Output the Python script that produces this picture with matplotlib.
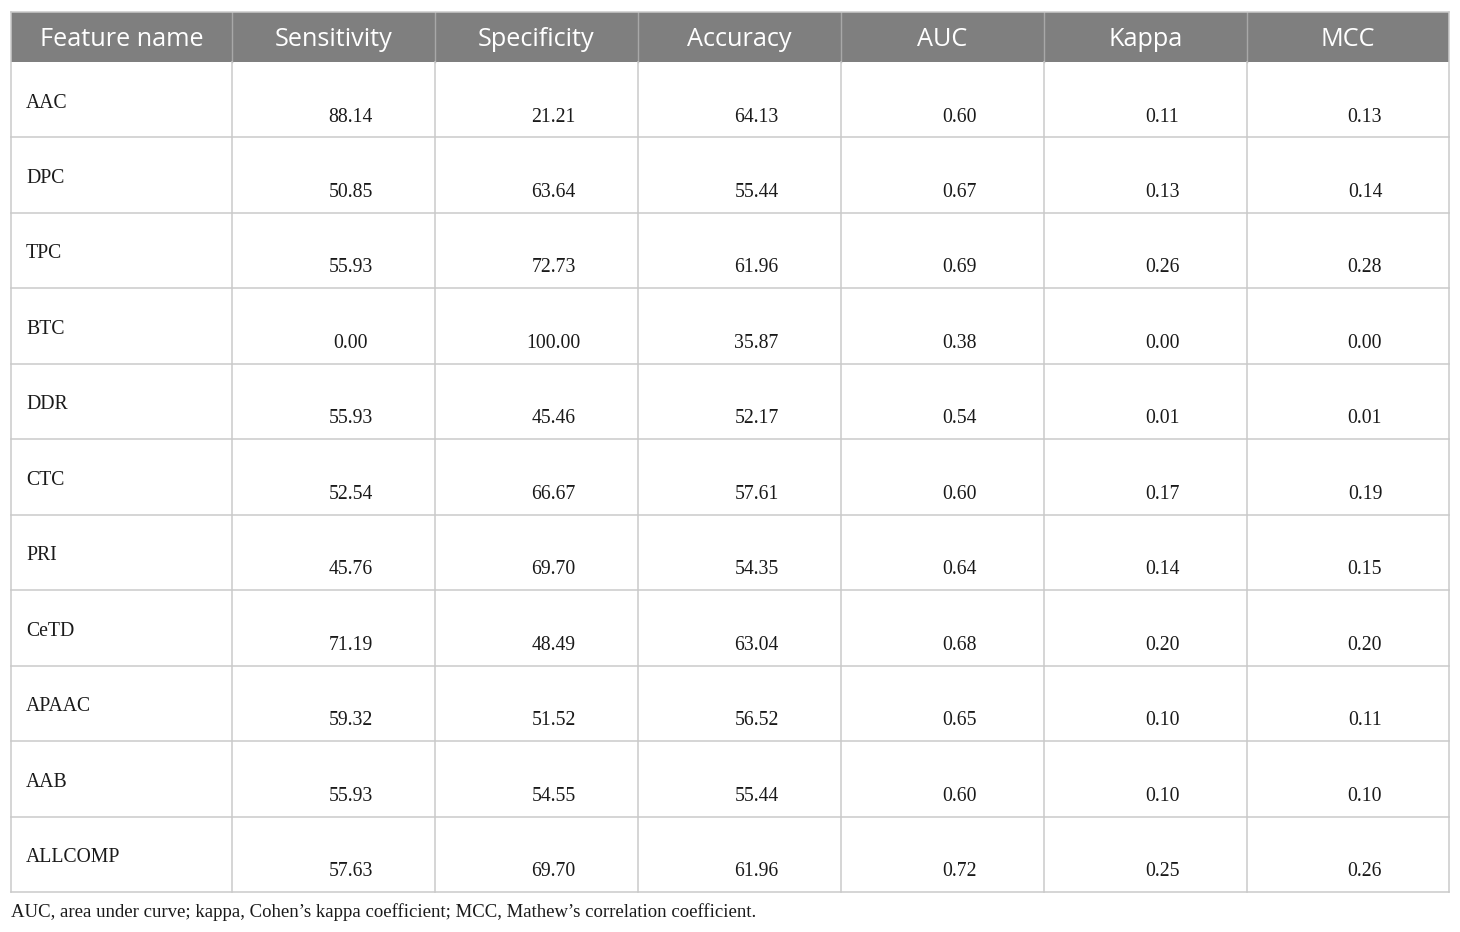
import matplotlib
matplotlib.use("Agg")
import matplotlib.pyplot as plt
from matplotlib.patches import Rectangle

headers = ["Feature name", "Sensitivity", "Specificity", "Accuracy", "AUC", "Kappa", "MCC"]
features = ["AAC", "DPC", "TPC", "BTC", "DDR", "CTC", "PRI", "CeTD", "APAAC", "AAB", "ALLCOMP"]
sensitivity = ["88.14", "50.85", "55.93", "0.00", "55.93", "52.54", "45.76", "71.19", "59.32", "55.93", "57.63"]
specificity = ["21.21", "63.64", "72.73", "100.00", "45.46", "66.67", "69.70", "48.49", "51.52", "54.55", "69.70"]
accuracy = ["64.13", "55.44", "61.96", "35.87", "52.17", "57.61", "54.35", "63.04", "56.52", "55.44", "61.96"]
auc = ["0.60", "0.67", "0.69", "0.38", "0.54", "0.60", "0.64", "0.68", "0.65", "0.60", "0.72"]
kappa = ["0.11", "0.13", "0.26", "0.00", "0.01", "0.17", "0.14", "0.20", "0.10", "0.10", "0.25"]
mcc = ["0.13", "0.14", "0.28", "0.00", "0.01", "0.19", "0.15", "0.20", "0.11", "0.10", "0.26"]
footnote = "AUC, area under curve; kappa, Cohen\u2019s kappa coefficient; MCC, Mathew\u2019s correlation coefficient."

W, H = 1460, 932
fig = plt.figure(figsize=(W / 100, H / 100), dpi=100)
ax = fig.add_axes([0, 0, 1, 1])
ax.set_xlim(0, W)
ax.set_ylim(H, 0)
ax.axis("off")

col_x = [11, 232, 435, 638, 841, 1044, 1247, 1449]
head_top, head_bot = 12, 62
row_h = (892 - 62) / 11
line_c = "#cacaca"
head_c = "#7f7f7f"

# header
ax.add_patch(Rectangle((col_x[0], head_top), col_x[-1] - col_x[0], head_bot - head_top,
                       facecolor=head_c, edgecolor="none"))
for i, h in enumerate(headers):
    cx = (col_x[i] + col_x[i + 1]) / 2
    ax.text(cx, (head_top + head_bot) / 2 + 3, h, ha="center", va="center",
            color="white", fontsize=18.2, family="Open Sans")
for x in col_x[1:-1]:
    ax.plot([x, x], [head_top, head_bot], color="#a8a8a8", lw=1)

columns = [sensitivity, specificity, accuracy, auc, kappa, mcc]
bottom = head_bot + row_h * len(features)

for r, name in enumerate(features):
    top = head_bot + r * row_h
    ax.text(26, top + 41, name, ha="left", va="center", color="#1a1a1a",
            fontsize=14.2, family="Liberation Serif")
    for c, col in enumerate(columns):
        cx = (col_x[c + 1] + col_x[c + 2]) / 2 + 17
        ax.text(cx, top + 55, col[r], ha="center", va="center", color="#1a1a1a",
                fontsize=14.2, family="Liberation Serif")
    ax.plot([col_x[0], col_x[-1]], [top + row_h, top + row_h], color=line_c, lw=1.1)

# grid lines
for x in col_x:
    y0 = head_top if x in (col_x[0], col_x[-1]) else head_bot
    ax.plot([x, x], [y0, bottom], color=line_c, lw=1.1)
ax.plot([col_x[0], col_x[-1]], [head_top, head_top], color=line_c, lw=1.1)

ax.text(11, 912, footnote, ha="left", va="center", color="#1a1a1a",
        fontsize=13.5, family="Liberation Serif")

fig.savefig("out.png", dpi=100)
